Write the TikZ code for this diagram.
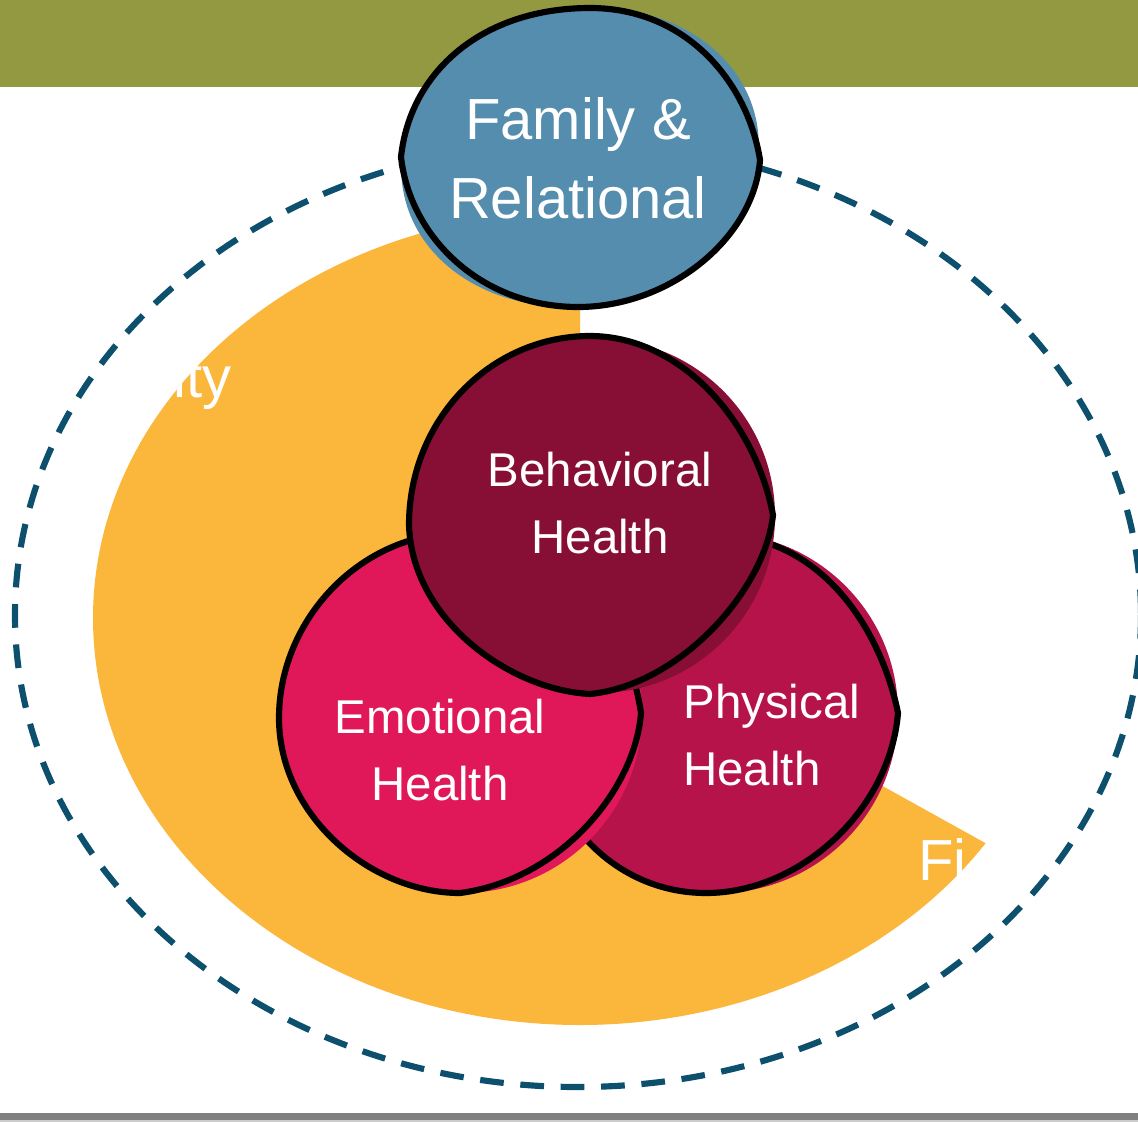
\documentclass[tikz,border=0pt]{standalone}
\usepackage{fontspec}
\setmainfont{Liberation Sans}
\usepackage{xcolor}
\usepackage{tikz}

\definecolor{olivebar}{RGB}{147,153,64}
\definecolor{sunorange}{RGB}{251,182,60}
\definecolor{ringteal}{RGB}{12,80,110}
\definecolor{familyblue}{RGB}{84,141,174}
\definecolor{behavred}{RGB}{135,14,53}
\definecolor{emopink}{RGB}{224,24,90}
\definecolor{physred}{RGB}{181,19,74}

\begin{document}
\begin{tikzpicture}[x=0.02cm, y=-0.02cm,
    outline/.style={draw=black, line width=3.5pt, line join=round},
    bigtext/.style={text=white, font=\fontsize{33}{45}\selectfont, align=center},
    healthtext/.style={text=white, font=\fontsize{27}{38}\selectfont, align=center, inner sep=0pt}]
    \useasboundingbox (0,0) rectangle (1138,1122);

    % Top bar and bottom rule
    \fill[olivebar] (0,0) rectangle (1138,87);
    \fill[gray] (0,1113) rectangle (1138,1120);
    \fill[gray!40] (0,1120) rectangle (1138,1122);

    % Orange sector - open towards the lower right
    \fill[sunorange] (580,618) -- (580,211) arc[start angle=270, end angle=33.6, x radius=487, y radius=407] -- cycle;

    % Dashed ring
    \draw[ringteal, line width=3.5pt, dash pattern=on 13.5pt off 9.5pt] (578,615) ellipse[x radius=563, y radius=472];

    % Label pieces that show on the orange
    \node[text=white, font=\fontsize{33}{45}\selectfont, inner sep=0pt, anchor=base east] (ityfrag) at (232,397) {ity};
    \node[text=white, font=\fontsize{33}{45}\selectfont, inner sep=0pt, anchor=base west] (fifrag) at (918,880) {Fi};

    % Physical health - drawn first, sits behind
    \fill[physred] (718,713) circle[radius=180];
    \path[outline, fill=physred] (538,713) .. controls (538,615) and (620,535) .. (718,535)
        .. controls (818,535) and (880,625) .. (898,713)
        .. controls (890,810) and (800,893) .. (706,893)
        .. controls (610,893) and (538,810) .. cycle;
    \node[healthtext, align=left, anchor=west] (physical) at (683,735) {Physical\\Health};

    % Emotional health
    \fill[emopink] (462,713) circle[radius=180];
    \path[outline, fill=emopink] (279,718) .. controls (279,620) and (360,533) .. (460,533)
        .. controls (560,533) and (625,610) .. (641,713)
        .. controls (635,790) and (560,880) .. (460,893)
        .. controls (370,893) and (279,815) .. cycle;
    \node[healthtext] (emotional) at (440,750) {Emotional\\Health};

    % Behavioral health - on top of the other two
    \fill[behavred] (598,516) circle[radius=177];
    \path[outline, fill=behavred] (409,525) .. controls (409,420) and (490,336) .. (590,336)
        .. controls (680,336) and (755,420) .. (773,515)
        .. controls (765,590) and (680,685) .. (590,694)
        .. controls (510,690) and (412,620) .. cycle;
    \node[healthtext] (behavioral) at (600,503) {Behavioral\\Health};

    % Family & relational - over the top bar
    \fill[familyblue, rotate around={12:(580,157)}] (580,157) ellipse[x radius=180, y radius=148];
    \path[outline, fill=familyblue] (401,157) .. controls (410,72) and (482,8) .. (590,8)
        .. controls (688,8) and (748,84) .. (760,160)
        .. controls (754,238) and (670,307) .. (578,307)
        .. controls (482,307) and (410,238) .. cycle;
    \node[bigtext] (family) at (578,158) {Family \&\\Relational};
\end{tikzpicture}
\end{document}
